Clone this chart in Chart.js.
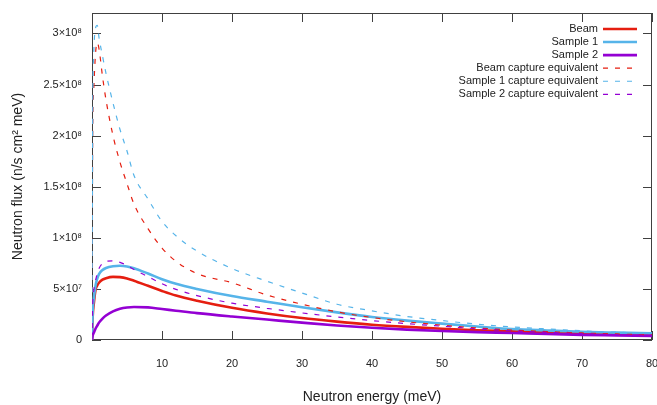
<!DOCTYPE html>
<html>
<head>
<meta charset="utf-8">
<script src="https://cdn.jsdelivr.net/npm/chart.js@4.4.1/dist/chart.umd.min.js"></script>
<style>
  html, body { margin: 0; padding: 0; background: #fff; }
  #wrap { width: 657px; height: 405px; }
</style>
</head>
<body>
<div id="wrap"><canvas id="flux"></canvas></div>
<script>
// neutron energy (meV), shared by every curve
const energy = [0, 0.1, 0.25, 0.5, 0.75, 1, 1.5, 2, 3, 4, 5, 6, 8, 10, 12, 15, 20, 25, 30, 35, 40, 45, 50, 55, 60, 65, 70, 75, 80];

// flux, in units of 1e7 n/s cm2 meV
const beam = [0, 2.3, 3.5, 4.9, 5.35, 5.6, 5.9, 6.05, 6.18, 6.15, 6.02, 5.8, 5.3, 4.8, 4.35, 3.85, 3.15, 2.6, 2.15, 1.8, 1.5, 1.28, 1.1, 0.96, 0.85, 0.75, 0.67, 0.6, 0.55];
const sample1 = [0, 2.8, 4.0, 5.3, 6.0, 6.45, 6.85, 7.05, 7.22, 7.27, 7.2, 7.02, 6.5, 5.95, 5.5, 5.0, 4.3, 3.75, 3.2, 2.7, 2.25, 1.9, 1.6, 1.32, 1.08, 0.93, 0.8, 0.72, 0.65];
const sample2 = [0, 0.45, 0.7, 1.1, 1.4, 1.7, 2.1, 2.4, 2.8, 3.05, 3.18, 3.23, 3.19, 3.03, 2.87, 2.63, 2.3, 2.0, 1.7, 1.42, 1.2, 1.02, 0.88, 0.77, 0.68, 0.58, 0.5, 0.45, 0.4];
const beamCapture = [0, 20, 24.5, 28, 29.1, 28.5, 25.8, 23.5, 20, 17.4, 15.3, 13.3, 10.9, 9.0, 7.7, 6.5, 5.6, 4.4, 3.5, 2.75, 2.2, 1.78, 1.45, 1.18, 0.97, 0.82, 0.69, 0.59, 0.5];
const sample1Capture = [0, 22, 28, 30.5, 30.8, 29.6, 27.8, 26.1, 23.2, 20.6, 18.5, 16.1, 13.8, 11.6, 10.2, 8.7, 7.0, 5.75, 4.6, 3.5, 2.85, 2.3, 1.9, 1.55, 1.28, 1.08, 0.9, 0.76, 0.65];
const sample2Capture = [0, 3.5, 4.8, 5.8, 6.5, 7.0, 7.5, 7.7, 7.75, 7.6, 7.3, 6.9, 6.2, 5.5, 4.95, 4.35, 3.6, 3.1, 2.65, 2.25, 1.9, 1.6, 1.35, 1.1, 0.9, 0.75, 0.62, 0.52, 0.45];

const seriesNames = ['Beam', 'Sample 1', 'Sample 2', 'Beam capture equivalent', 'Sample 1 capture equivalent', 'Sample 2 capture equivalent'];
const seriesValues = [beam, sample1, sample2, beamCapture, sample1Capture, sample2Capture];

const xTickValues = [0, 10, 20, 30, 40, 50, 60, 70, 80];
const xTickLabels = ['', '10', '20', '30', '40', '50', '60', '70', '80'];
const yTickValues = [0, 5e7, 1e8, 1.5e8, 2e8, 2.5e8, 3e8];
const yTickLabels = ['0', '5×10⁷', '1×10⁸', '1.5×10⁸', '2×10⁸', '2.5×10⁸', '3×10⁸'];

const UNIT = 1e7;
const FONT = "'Liberation Sans', Arial, sans-serif";
const colors = ['#e51e10', '#56b4e9', '#9400d3', '#e51e10', '#56b4e9', '#9400d3'];

const datasets = seriesNames.map((name, i) => {
  const dashed = i >= 3;
  return {
    label: name,
    data: energy.map((e, j) => ({ x: e, y: seriesValues[i][j] * UNIT })),
    borderColor: colors[i],
    borderWidth: dashed ? 1.2 : 2.6,
    borderDash: dashed ? [5, 7] : [],
    pointRadius: 0,
    fill: false,
    cubicInterpolationMode: 'monotone',
    order: 5 - i,
  };
});

// gnuplot style box with inward ticks on all four sides
const framePlugin = {
  id: 'frame',
  beforeDatasetsDraw(chart) {
    const { ctx, chartArea: a, scales } = chart;
    ctx.save();
    ctx.strokeStyle = '#404040';
    ctx.lineWidth = 1;
    ctx.strokeRect(a.left + 0.5, a.top + 0.5, a.right - a.left - 1, a.bottom - a.top - 1);
    ctx.beginPath();
    scales.y.ticks.forEach((t) => {
      const py = Math.round(scales.y.getPixelForValue(t.value)) + 0.5;
      ctx.moveTo(a.left, py);
      ctx.lineTo(a.left + 9, py);
      ctx.moveTo(a.right, py);
      ctx.lineTo(a.right - 9, py);
    });
    scales.x.ticks.forEach((t) => {
      const px = Math.round(scales.x.getPixelForValue(t.value)) + 0.5;
      ctx.moveTo(px, a.bottom);
      ctx.lineTo(px, a.bottom - 9);
      ctx.moveTo(px, a.top);
      ctx.lineTo(px, a.top + 9);
    });
    ctx.stroke();
    ctx.restore();
  },
};

// key in the top right: text right aligned, sample line after it
const keyPlugin = {
  id: 'key',
  afterDraw(chart) {
    const { ctx } = chart;
    ctx.save();
    ctx.font = '11px ' + FONT;
    ctx.textAlign = 'right';
    ctx.textBaseline = 'middle';
    chart.data.datasets.forEach((ds, i) => {
      const y = 29 + i * 13.06;
      ctx.fillStyle = '#222';
      ctx.fillText(ds.label, 598, y);
      ctx.strokeStyle = ds.borderColor;
      ctx.lineWidth = ds.borderWidth;
      ctx.setLineDash(ds.borderDash);
      ctx.beginPath();
      ctx.moveTo(603, y);
      ctx.lineTo(637, y);
      ctx.stroke();
    });
    ctx.restore();
  },
};

new Chart(document.getElementById('flux'), {
  type: 'line',
  data: { datasets },
  plugins: [framePlugin, keyPlugin],
  options: {
    responsive: true,
    maintainAspectRatio: false,
    animation: false,
    layout: { padding: { left: 0, right: 5, top: 13, bottom: 0 } },
    plugins: {
      legend: { display: false },
      tooltip: { enabled: false },
    },
    scales: {
      x: {
        type: 'linear',
        bounds: 'data',
        min: 0,
        max: 80,
        grid: { display: false, drawTicks: false },
        border: { display: false },
        afterBuildTicks(scale) {
          scale.ticks = xTickValues.map((v) => ({ value: v }));
        },
        ticks: {
          maxRotation: 0,
          autoSkip: false,
          padding: 17,
          color: '#222',
          font: { family: FONT, size: 11 },
          callback: (v, i) => xTickLabels[i],
        },
        title: {
          display: true,
          text: 'Neutron energy (meV)',
          color: '#222',
          font: { family: FONT, size: 14, lineHeight: 1 },
          padding: { top: 0, bottom: 1 },
        },
        afterFit(scale) {
          scale.height = 65;
          scale.paddingLeft = 0;
          scale.paddingRight = 0;
        },
      },
      y: {
        type: 'linear',
        bounds: 'data',
        min: 0,
        max: 3.2e8,
        grid: { display: false, drawTicks: false },
        border: { display: false },
        afterBuildTicks(scale) {
          scale.ticks = yTickValues.map((v) => ({ value: v }));
        },
        ticks: {
          autoSkip: false,
          padding: 10,
          color: '#222',
          font: { family: FONT, size: 11 },
          callback: (v, i) => yTickLabels[i],
        },
        title: {
          display: true,
          text: 'Neutron flux (n/s cm² meV)',
          color: '#222',
          font: { family: FONT, size: 14, lineHeight: 1 },
          padding: { top: 11, bottom: 0 },
        },
        afterFit(scale) {
          scale.width = 92;
          scale.paddingTop = 0;
          scale.paddingBottom = 0;
        },
      },
    },
  },
});
</script>
</body>
</html>
